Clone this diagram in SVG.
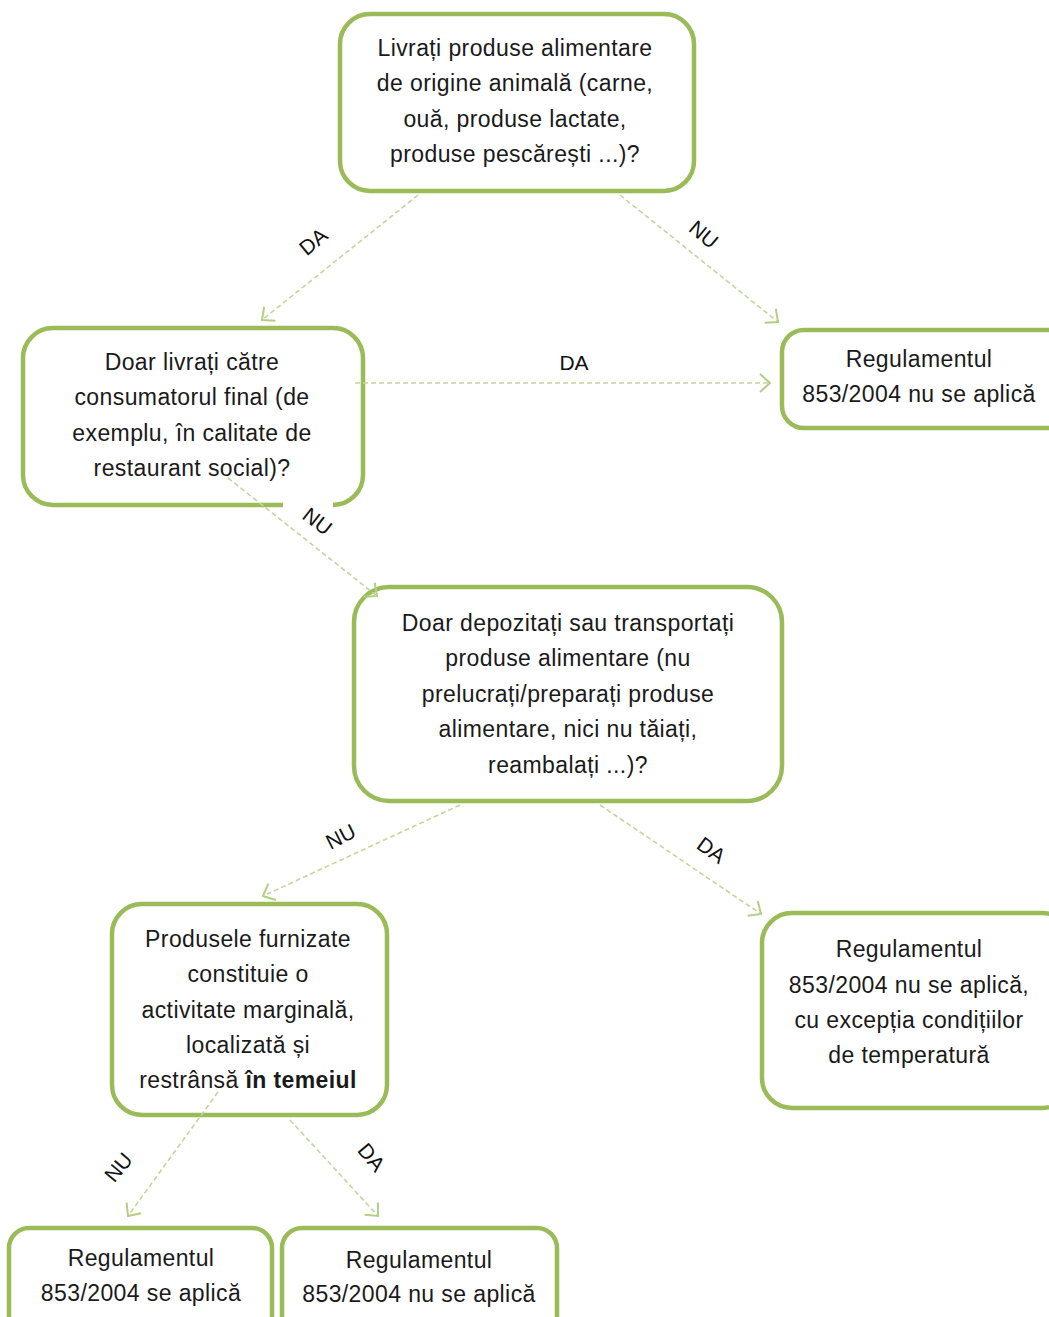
<svg xmlns="http://www.w3.org/2000/svg" width="1049" height="1317" viewBox="0 0 1049 1317">
<defs>
<style>
.node{fill:#ffffff;stroke:#9BBB59;stroke-width:4.5}
.t{font-family:"Liberation Sans","Open Sans",Arial,sans-serif;font-size:23px;letter-spacing:0.4px;fill:#1a1a1a;text-anchor:middle}
.b{font-weight:bold}
.conn{fill:none;stroke:#C3D69B;stroke-width:1.6;stroke-dasharray:5 3}
.lbl{font-family:"Liberation Sans",Arial,sans-serif;font-size:21px;fill:#111;text-anchor:middle}
</style>
<marker id="arr" viewBox="0 0 12 20" refX="11" refY="10" markerWidth="12" markerHeight="20" markerUnits="userSpaceOnUse" orient="auto">
<path d="M1,1 L11,10 L1,19" fill="none" stroke="#B3CF85" stroke-width="2"/>
</marker>
</defs>
<rect width="1049" height="1317" fill="#ffffff"/>

<g id="n1">
<rect class="node" x="340" y="14" width="354" height="177" rx="30"/>
<text class="t" x="515" y="56">Livrați produse alimentare</text>
<text class="t" x="515" y="91">de origine animală (carne,</text>
<text class="t" x="515" y="127">ouă, produse lactate,</text>
<text class="t" x="515" y="162">produse pescărești ...)?</text>
</g>

<g id="n2">
<path class="node" d="M333,505 A30,30 0 0 0 363,475 L363,358 A30,30 0 0 0 333,328 L53,328 A30,30 0 0 0 23,358 L23,475 A30,30 0 0 0 53,505 L283,505"/>
<text class="t" x="192" y="370">Doar livrați către</text>
<text class="t" x="192" y="405">consumatorul final (de</text>
<text class="t" x="192" y="441">exemplu, în calitate de</text>
<text class="t" x="192" y="476">restaurant social)?</text>
</g>

<g id="n3">
<rect class="node" x="782" y="330" width="300" height="98" rx="22"/>
<text class="t" x="919" y="367">Regulamentul</text>
<text class="t" x="919" y="402">853/2004  nu se aplică</text>
</g>

<g id="n4">
<rect class="node" x="354" y="587" width="428" height="214" rx="35"/>
<text class="t" x="568" y="631">Doar depozitați sau transportați</text>
<text class="t" x="568" y="666">produse alimentare (nu</text>
<text class="t" x="568" y="702">prelucrați/preparați produse</text>
<text class="t" x="568" y="737">alimentare, nici nu tăiați,</text>
<text class="t" x="568" y="773">reambalați ...)?</text>
</g>

<g id="n5">
<rect class="node" x="112" y="904" width="275" height="211" rx="30"/>
<text class="t" x="248" y="947">Produsele furnizate</text>
<text class="t" x="248" y="982">constituie o</text>
<text class="t" x="248" y="1018">activitate marginală,</text>
<text class="t" x="248" y="1053">localizată și</text>
<text class="t" x="248" y="1088">restrânsă <tspan class="b">în temeiul</tspan></text>
</g>

<g id="n6">
<rect class="node" x="762" y="913" width="310" height="195" rx="30"/>
<text class="t" x="909" y="957">Regulamentul</text>
<text class="t" x="909" y="993">853/2004  nu se aplică,</text>
<text class="t" x="909" y="1028">cu excepția condițiilor</text>
<text class="t" x="909" y="1063">de temperatură</text>
</g>

<g id="n7">
<rect class="node" x="9" y="1228" width="263" height="110" rx="20"/>
<text class="t" x="141" y="1266">Regulamentul</text>
<text class="t" x="141" y="1301">853/2004  se aplică</text>
</g>

<g id="n8">
<rect class="node" x="282" y="1228" width="275" height="110" rx="20"/>
<text class="t" x="419" y="1268">Regulamentul</text>
<text class="t" x="419" y="1302">853/2004  nu se aplică</text>
</g>

<g id="connectors">
<line class="conn" x1="418" y1="195" x2="262" y2="320" marker-end="url(#arr)"/>
<line class="conn" x1="620" y1="195" x2="778" y2="322" marker-end="url(#arr)"/>
<line class="conn" x1="355" y1="383" x2="770" y2="383" marker-end="url(#arr)"/>
<line class="conn" x1="228" y1="478" x2="377" y2="596" marker-end="url(#arr)"/>
<line class="conn" x1="460" y1="805" x2="263" y2="896" marker-end="url(#arr)"/>
<line class="conn" x1="600" y1="805" x2="761" y2="914" marker-end="url(#arr)"/>
<line class="conn" x1="218" y1="1092" x2="128" y2="1216" marker-end="url(#arr)"/>
<line class="conn" x1="290" y1="1120" x2="378" y2="1216" marker-end="url(#arr)"/>
<text class="lbl" transform="translate(318,247) rotate(-40)">DA</text>
<text class="lbl" transform="translate(699,240) rotate(40)">NU</text>
<text class="lbl" x="574" y="370">DA</text>
<text class="lbl" transform="translate(313,527) rotate(38)">NU</text>
<text class="lbl" transform="translate(344,843) rotate(-27)">NU</text>
<text class="lbl" transform="translate(707,856) rotate(36)">DA</text>
<text class="lbl" transform="translate(124,1172) rotate(-50)">NU</text>
<text class="lbl" transform="translate(366,1162) rotate(50)">DA</text>
</g>
</svg>
